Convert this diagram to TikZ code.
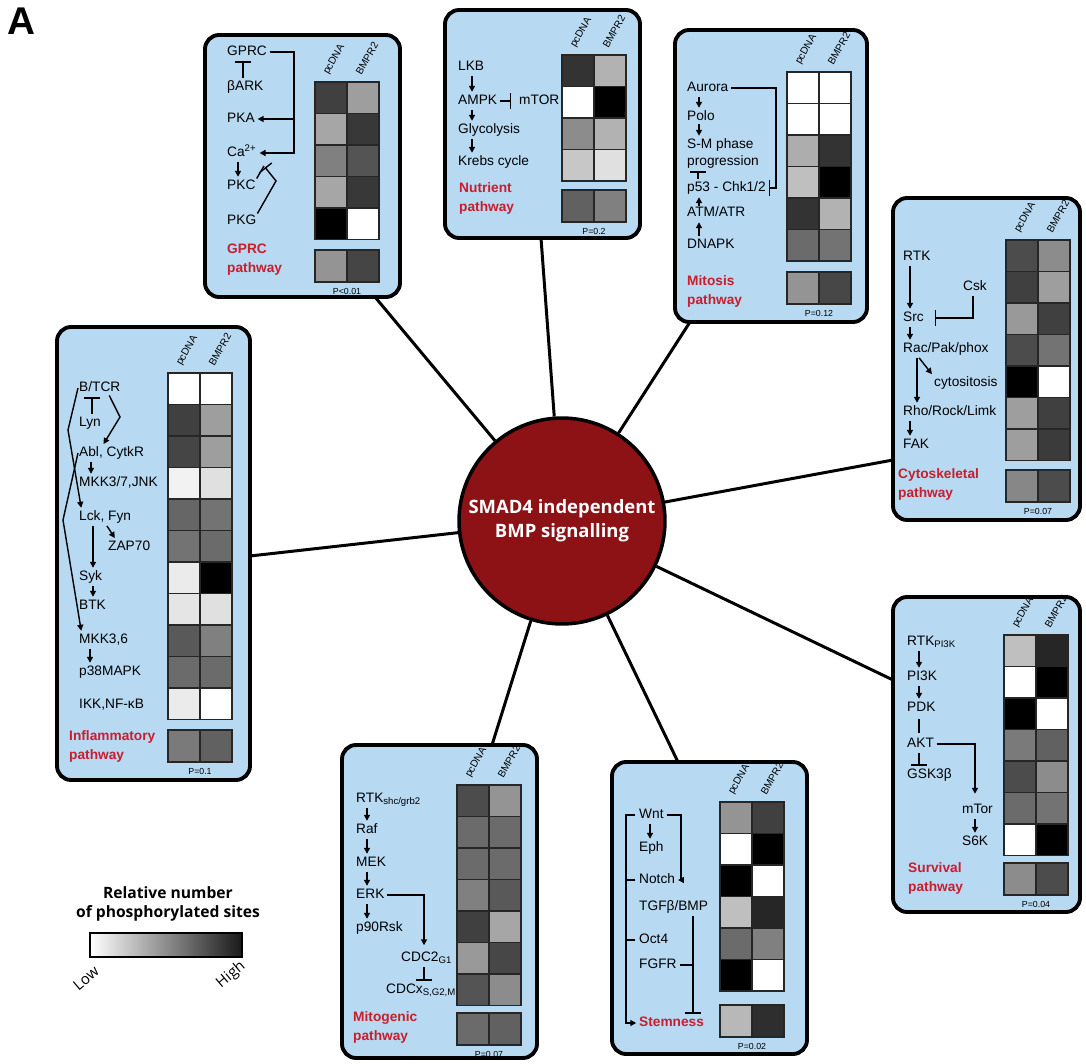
\documentclass[tikz,border=0pt]{standalone}
\usepackage{fontspec}
\setmainfont{Liberation Sans}
\newfontfamily\myriad{Open Sans}
\usepackage{tikz}
\usetikzlibrary{positioning,fit,arrows.meta}
\definecolor{panelblue}{RGB}{183,217,242}
\definecolor{pathred}{RGB}{200,30,45}
\definecolor{hubred}{RGB}{140,18,22}
\newcommand*{\pwfont}[1]{\fontsize{7.8}{#1}\selectfont}
% heat map of a panel: name, left x, top y, rows (black %), summary top, summary pair, P value
\newcommand*{\heatgrid}[7]{%
  \foreach \a/\b [count=\i] in {#4}{
    \draw[cell,fill=black!\a] (#2,{#3+(\i-1)*31.5}) rectangle ++(32,31.5);
    \draw[cell,fill=black!\b] (#2+32,{#3+(\i-1)*31.5}) rectangle ++(32,31.5);
  }
  \foreach \a/\b in {#6}{
    \draw[cell,fill=black!\a] (#2,#5) rectangle ++(32,32);
    \draw[cell,fill=black!\b] (#2+32,#5) rectangle ++(32,32);
  }
  \node[collab] (#1-pc) at (#2+11,#3-8) {pcDNA};
  \node[collab] (#1-bm) at (#2+43,#3-8) {BMPR2};
  \node[pval] (#1-p) at (#2+32,#5+41) {#7};
}

\begin{document}
\begin{tikzpicture}[x=0.02cm,y=-0.02cm,
  panel/.style={draw,line width=2.2pt,rounded corners=8pt,fill=panelblue,inner sep=0pt},
  spoke/.style={line width=1.7pt},
  txt/.style={anchor=west,inner sep=0.5pt,font=\pwfont{9},text height=5.6pt,text depth=1.5pt},
  pwy/.style={anchor=west,inner sep=0.5pt,align=left,font=\pwfont{10.8}\bfseries,text=pathred},
  arr/.style={line width=0.8pt,shorten >=1pt,-{Triangle[length=3.4pt,width=3.4pt]}},
  inh/.style={line width=0.8pt,shorten >=1pt,-{Bar[width=9pt]}},
  gapped/.style={shorten <=1pt,shorten >=1pt},
  lnk/.style={line width=0.8pt},
  cell/.style={draw=black!85,line width=0.6pt},
  collab/.style={rotate=60,anchor=west,inner sep=0pt,font=\fontsize{5.8}{6.5}\selectfont},
  pval/.style={inner sep=0pt,font=\fontsize{5}{5.5}\selectfont}]
\useasboundingbox (0,0) rectangle (1086,1064);
\node[font=\fontsize{22}{22}\selectfont\bfseries] (fig-A) at (21,21) {A};

% Hub and the spokes out to the panels
\node[circle,draw,line width=2pt,fill=hubred,minimum size=4.1cm,text=white,align=center,
      font=\myriad\bfseries\fontsize{10.5}{13.6}\selectfont] (hub) at (562,521)
      {SMAD4 independent\\BMP signalling};
\coordinate (gp-s) at (375,297);
\coordinate (nu-s) at (541,238);
\coordinate (mi-s) at (690,322);
\coordinate (cy-s) at (893,460);
\coordinate (su-s) at (893,680);
\coordinate (st-s) at (678,762);
\coordinate (mg-s) at (492,745);
\coordinate (in-s) at (250,556);
\foreach \s in {gp,nu,mi,cy,su,st,mg,in}
  \draw[spoke] (hub) -- (\s-s);

% GPRC pathway
\node[panel,fit={(205,35) (400,297)}] (gprc) {};
\node[txt] (gp-gprc) at (226,52) {GPRC};
\node[txt] (gp-bark) at (226,87) {βARK};
\node[txt] (gp-pka) at (226,119) {PKA};
\node[txt] (gp-ca) at (226,153) {Ca\textsuperscript{2+}};
\node[txt] (gp-pkc) at (226,186) {PKC};
\node[txt] (gp-pkg) at (226,221) {PKG};
\node[pwy] (gp-name) at (226,259.5) {GPRC\\pathway};
\coordinate (gp-bus) at (294,0);
\draw[inh,gapped] (gp-bark.north -| 243,0) -- (gp-gprc.south -| 243,0);
\draw[arr,gapped] (gp-gprc.east) -| (gp-ca.east -| gp-bus) -- (gp-ca.east);
\draw[arr] (gp-pka.east -| gp-bus) -- (gp-pka.east);
\draw[arr,gapped] (gp-ca.south -| 238,0) -- (gp-pkc.north -| 238,0);
\draw[inh] (gp-pkg.north east) -- (276,181) -- (264,166);
\draw[lnk] (gp-pkc.north east) -- (264,166);
\heatgrid{gp}{315}{82}{75/38,35/78,50/67,35/78,100/0}{250}{42/73}{P<0.01}

% Nutrient pathway
\node[panel,fit={(445,10) (640,238)}] (nutr) {};
\node[txt] (nu-lkb) at (457,67) {LKB};
\node[txt] (nu-ampk) at (457,101) {AMPK};
\node[txt] (nu-mtor) at (518,101) {mTOR};
\node[txt] (nu-gly) at (457,130) {Glycolysis};
\node[txt] (nu-krebs) at (457,162) {Krebs cycle};
\node[pwy] (nu-name) at (458,198.5) {Nutrient\\pathway};
\draw[arr,gapped] (nu-lkb.south -| 472,0) -- (nu-ampk.north -| 472,0);
\draw[arr,gapped] (nu-ampk.south -| 472,0) -- (nu-gly.north -| 472,0);
\draw[arr,gapped] (nu-gly.south -| 472,0) -- (nu-krebs.north -| 472,0);
\draw[inh,gapped,shorten >=4pt] (nu-ampk.east) -- (nu-mtor.west);
\heatgrid{nu}{562}{55}{80/30,0/100,45/30,22/12}{190}{62/50}{P=0.2}

% Mitosis pathway
\node[panel,fit={(675,30) (867,322)}] (mitosis) {};
\node[txt] (mi-aur) at (686,88) {Aurora};
\node[txt] (mi-polo) at (686,117) {Polo};
\node[txt] (mi-sm) at (686,145) {S-M phase};
\node[txt] (mi-prog) at (686,162) {progression};
\node[txt] (mi-p53) at (686,188) {p53 - Chk1/2};
\node[txt] (mi-atm) at (686,213) {ATM/ATR};
\node[txt] (mi-dna) at (686,245) {DNAPK};
\node[pwy] (mi-name) at (686,291.5) {Mitosis\\pathway};
\coordinate (mi-bus) at (776,0);
\draw[arr,gapped] (mi-aur.south -| 699,0) -- (mi-polo.north -| 699,0);
\draw[arr] (mi-polo.south -| 699,0) -- (mi-sm.north -| 699,0);
\draw[inh,gapped] (mi-p53.north -| 698,0) -- (mi-prog.south -| 698,0);
\draw[arr] (mi-atm.north -| 699,0) -- (mi-p53.south -| 699,0);
\draw[arr,gapped] (mi-dna.north -| 699,0) -- (mi-atm.south -| 699,0);
\draw[inh,gapped] (mi-aur.east) -| (mi-p53.east -| mi-bus) -- (mi-p53.east);
\heatgrid{mi}{787}{72}{0/0,0/0,32/80,25/100,80/30,58/55}{272}{42/72}{P=0.12}

% Cytoskeletal pathway
\node[panel,fit={(893,198) (1080,520)}] (cyto) {};
\node[txt] (cy-rtk) at (902,257) {RTK};
\node[txt] (cy-csk) at (962,287) {Csk};
\node[txt] (cy-src) at (902,318) {Src};
\node[txt] (cy-rac) at (902,349) {Rac/Pak/phox};
\node[txt] (cy-cyt) at (933,383) {cytositosis};
\node[txt] (cy-rho) at (902,412) {Rho/Rock/Limk};
\node[txt] (cy-fak) at (902,445) {FAK};
\node[pwy] (cy-name) at (897,484) {Cytoskeletal\\pathway};
\draw[arr,gapped] (cy-rtk.south -| 910,0) -- (cy-src.north -| 910,0);
\draw[arr,gapped] (cy-src.south -| 910,0) -- (cy-rac.north -| 910,0);
\draw[arr,gapped] (cy-rac.south -| 917,0) -- (cy-rho.north -| 917,0);
\draw[arr,gapped] (cy-rac.south -| 918,0) -- (cy-cyt.north west);
\draw[arr,gapped] (cy-rho.south -| 910,0) -- (cy-fak.north -| 910,0);
\draw[inh,gapped] (cy-csk.south -| 973,0) |- ([xshift=4.5pt]cy-src.east);
\heatgrid{cy}{1006}{240}{70/45,75/38,40/75,70/55,100/0,38/75,38/77}{470}{47/70}{P=0.07}

% Survival pathway
\node[panel,fit={(893,597) (1080,912)}] (surv) {};
\node[txt] (su-rtk) at (906,642) {RTK\textsubscript{PI3K}};
\node[txt] (su-pi3k) at (906,677) {PI3K};
\node[txt] (su-pdk) at (906,708) {PDK};
\node[txt] (su-akt) at (906,744) {AKT};
\node[txt] (su-gsk) at (906,775) {GSK3β};
\node[txt] (su-mtor) at (961,810) {mTor};
\node[txt] (su-s6k) at (961,842) {S6K};
\node[pwy] (su-name) at (907,878.5) {Survival\\pathway};
\coordinate (su-bus) at (975,0);
\draw[arr,gapped] (su-rtk.south -| 919,0) -- (su-pi3k.north -| 919,0);
\draw[arr,gapped] (su-pi3k.south -| 919,0) -- (su-pdk.north -| 919,0);
\draw[lnk,shorten <=2pt,shorten >=2pt] (su-pdk.south -| 919,0) -- (su-akt.north -| 919,0);
\draw[inh,gapped] (su-akt.south -| 919,0) -- (su-gsk.north -| 919,0);
\draw[arr,gapped,shorten >=5pt] (su-akt.east) -| (su-mtor.north -| su-bus);
\draw[arr,gapped] (su-mtor.south -| su-bus) -- (su-s6k.north -| su-bus);
\heatgrid{su}{1004}{635}{25/85,0/100,100/0,52/62,70/45,58/55,0/100}{863}{45/70}{P=0.04}

% Stemness
\node[panel,fit={(612,762) (807,1054)}] (stem) {};
\node[txt] (st-wnt) at (638,815) {Wnt};
\node[txt] (st-eph) at (638,848) {Eph};
\node[txt] (st-notch) at (638,880) {Notch};
\node[txt] (st-tgf) at (638,907) {TGFβ/BMP};
\node[txt] (st-oct) at (638,940) {Oct4};
\node[txt] (st-fgfr) at (638,965) {FGFR};
\node[pwy,text height=5.6pt,text depth=1.5pt] (st-name) at (638,1023) {Stemness};
\coordinate (st-bus) at (626,0);
\coordinate (st-loop) at (681,0);
\coordinate (st-stop) at (693,0);
\draw[arr,shorten <=1.5pt] (st-wnt.west) -| (st-name.west -| st-bus) -- (st-name.west);
\draw[lnk,shorten <=1.5pt] (st-notch.west) -- (st-notch.west -| st-bus);
\draw[lnk,shorten <=1.5pt] (st-oct.west) -- (st-oct.west -| st-bus);
\draw[arr,gapped] (st-wnt.south -| 650,0) -- (st-eph.north -| 650,0);
\draw[arr,gapped] (st-wnt.east) -| (st-notch.east -| st-loop) -- (st-notch.east);
\draw[inh,gapped] (st-tgf.south -| st-stop) -- (st-name.north -| st-stop);
\draw[lnk,shorten <=1.5pt] (st-fgfr.east) -- (st-fgfr.east -| st-stop);
\heatgrid{st}{720}{802}{42/75,0/100,100/0,25/85,58/50,100/0}{1005}{28/82}{P=0.02}

% Mitogenic pathway
\node[panel,fit={(342,745) (537,1058)}] (mitog) {};
\node[txt] (mg-rtk) at (355,799) {RTK\textsubscript{shc/grb2}};
\node[txt] (mg-raf) at (355,830) {Raf};
\node[txt] (mg-mek) at (355,863) {MEK};
\node[txt] (mg-erk) at (355,895) {ERK};
\node[txt] (mg-p90) at (355,928) {p90Rsk};
\node[txt] (mg-cdc2) at (400,958) {CDC2\textsubscript{G1}};
\node[txt] (mg-cdcx) at (385,990) {CDCx\textsubscript{S,G2,M}};
\node[pwy] (mg-name) at (352,1027) {Mitogenic\\pathway};
\coordinate (mg-bus) at (424,0);
\draw[arr,gapped] (mg-rtk.south -| 367,0) -- (mg-raf.north -| 367,0);
\draw[arr,gapped] (mg-raf.south -| 367,0) -- (mg-mek.north -| 367,0);
\draw[arr,gapped] (mg-mek.south -| 367,0) -- (mg-erk.north -| 367,0);
\draw[arr,gapped] (mg-erk.south -| 367,0) -- (mg-p90.north -| 367,0);
\draw[arr,gapped,shorten >=3pt] (mg-erk.east) -| (mg-cdc2.north -| mg-bus);
\draw[inh,gapped] (mg-cdc2.south -| mg-bus) -- (mg-cdcx.north -| mg-bus);
\heatgrid{mg}{457}{785}{70/42,58/58,58/58,50/65,75/35,40/72,67/45}{1013}{58/62}{P=0.07}

% Inflammatory pathway
\node[panel,fit={(57,327) (250,780)}] (infl) {};
\node[txt] (in-btcr) at (78,388) {B/TCR};
\node[txt] (in-lyn) at (78,423) {Lyn};
\node[txt] (in-abl) at (78,453) {Abl, CytkR};
\node[txt] (in-mkk37) at (78,483) {MKK3/7,JNK};
\node[txt] (in-lck) at (78,517) {Lck, Fyn};
\node[txt] (in-zap) at (107,547) {ZAP70};
\node[txt] (in-syk) at (78,577) {Syk};
\node[txt] (in-btk) at (78,606) {BTK};
\node[txt] (in-mkk36) at (78,640) {MKK3,6};
\node[txt] (in-p38) at (78,672) {p38MAPK};
\node[txt] (in-ikk) at (78,705) {IKK,NF-κB};
\node[pwy] (in-name) at (68,746.5) {Inflammatory\\pathway};
\draw[inh,gapped] (in-lyn.north -| 92,0) -- (in-btcr.south -| 92,0);
\draw[arr] ([xshift=-7pt]in-btcr.south east) -- (120,417) -- ([xshift=14pt]in-abl.north west);
\draw[arr,gapped] (in-abl.south -| 91,0) -- (in-mkk37.north -| 91,0);
\draw[arr] (in-btcr.west) -- (68,430) -- ([xshift=2pt]in-lck.north west);
\draw[arr] (in-abl.west) -- (63,520) -- ([xshift=2pt]in-mkk36.north west);
\draw[arr,gapped] (in-lck.south -| 106,0) -- ([xshift=5pt]in-zap.north west);
\draw[arr,gapped] (in-lck.south -| 93,0) -- (in-syk.north -| 93,0);
\draw[arr,gapped] (in-syk.south -| 93,0) -- (in-btk.north -| 93,0);
\draw[arr,gapped] (in-mkk36.south -| 90,0) -- (in-p38.north -| 90,0);
\heatgrid{in}{168}{373}{0/0,75/38,73/38,5/12,60/55,55/58,8/100,10/12,65/50,58/58,8/0}{730}{52/62}{P=0.1}

% Legend
\node[align=center,font=\myriad\bfseries\fontsize{8.9}{11.3}\selectfont] (lg-title) at (168,904)
     {Relative number\\of phosphorylated sites};
\node[fit={(90,933) (242,957)},inner sep=0pt,draw,line width=1.2pt,
      left color=white,right color=black!90] (lg-bar) {};
\node[rotate=40,font=\myriad\fontsize{8.5}{9}\selectfont] (lg-low) at (86,978) {Low};
\node[rotate=40,font=\myriad\fontsize{8.5}{9}\selectfont] (lg-high) at (231,975) {High};
\end{tikzpicture}
\end{document}
